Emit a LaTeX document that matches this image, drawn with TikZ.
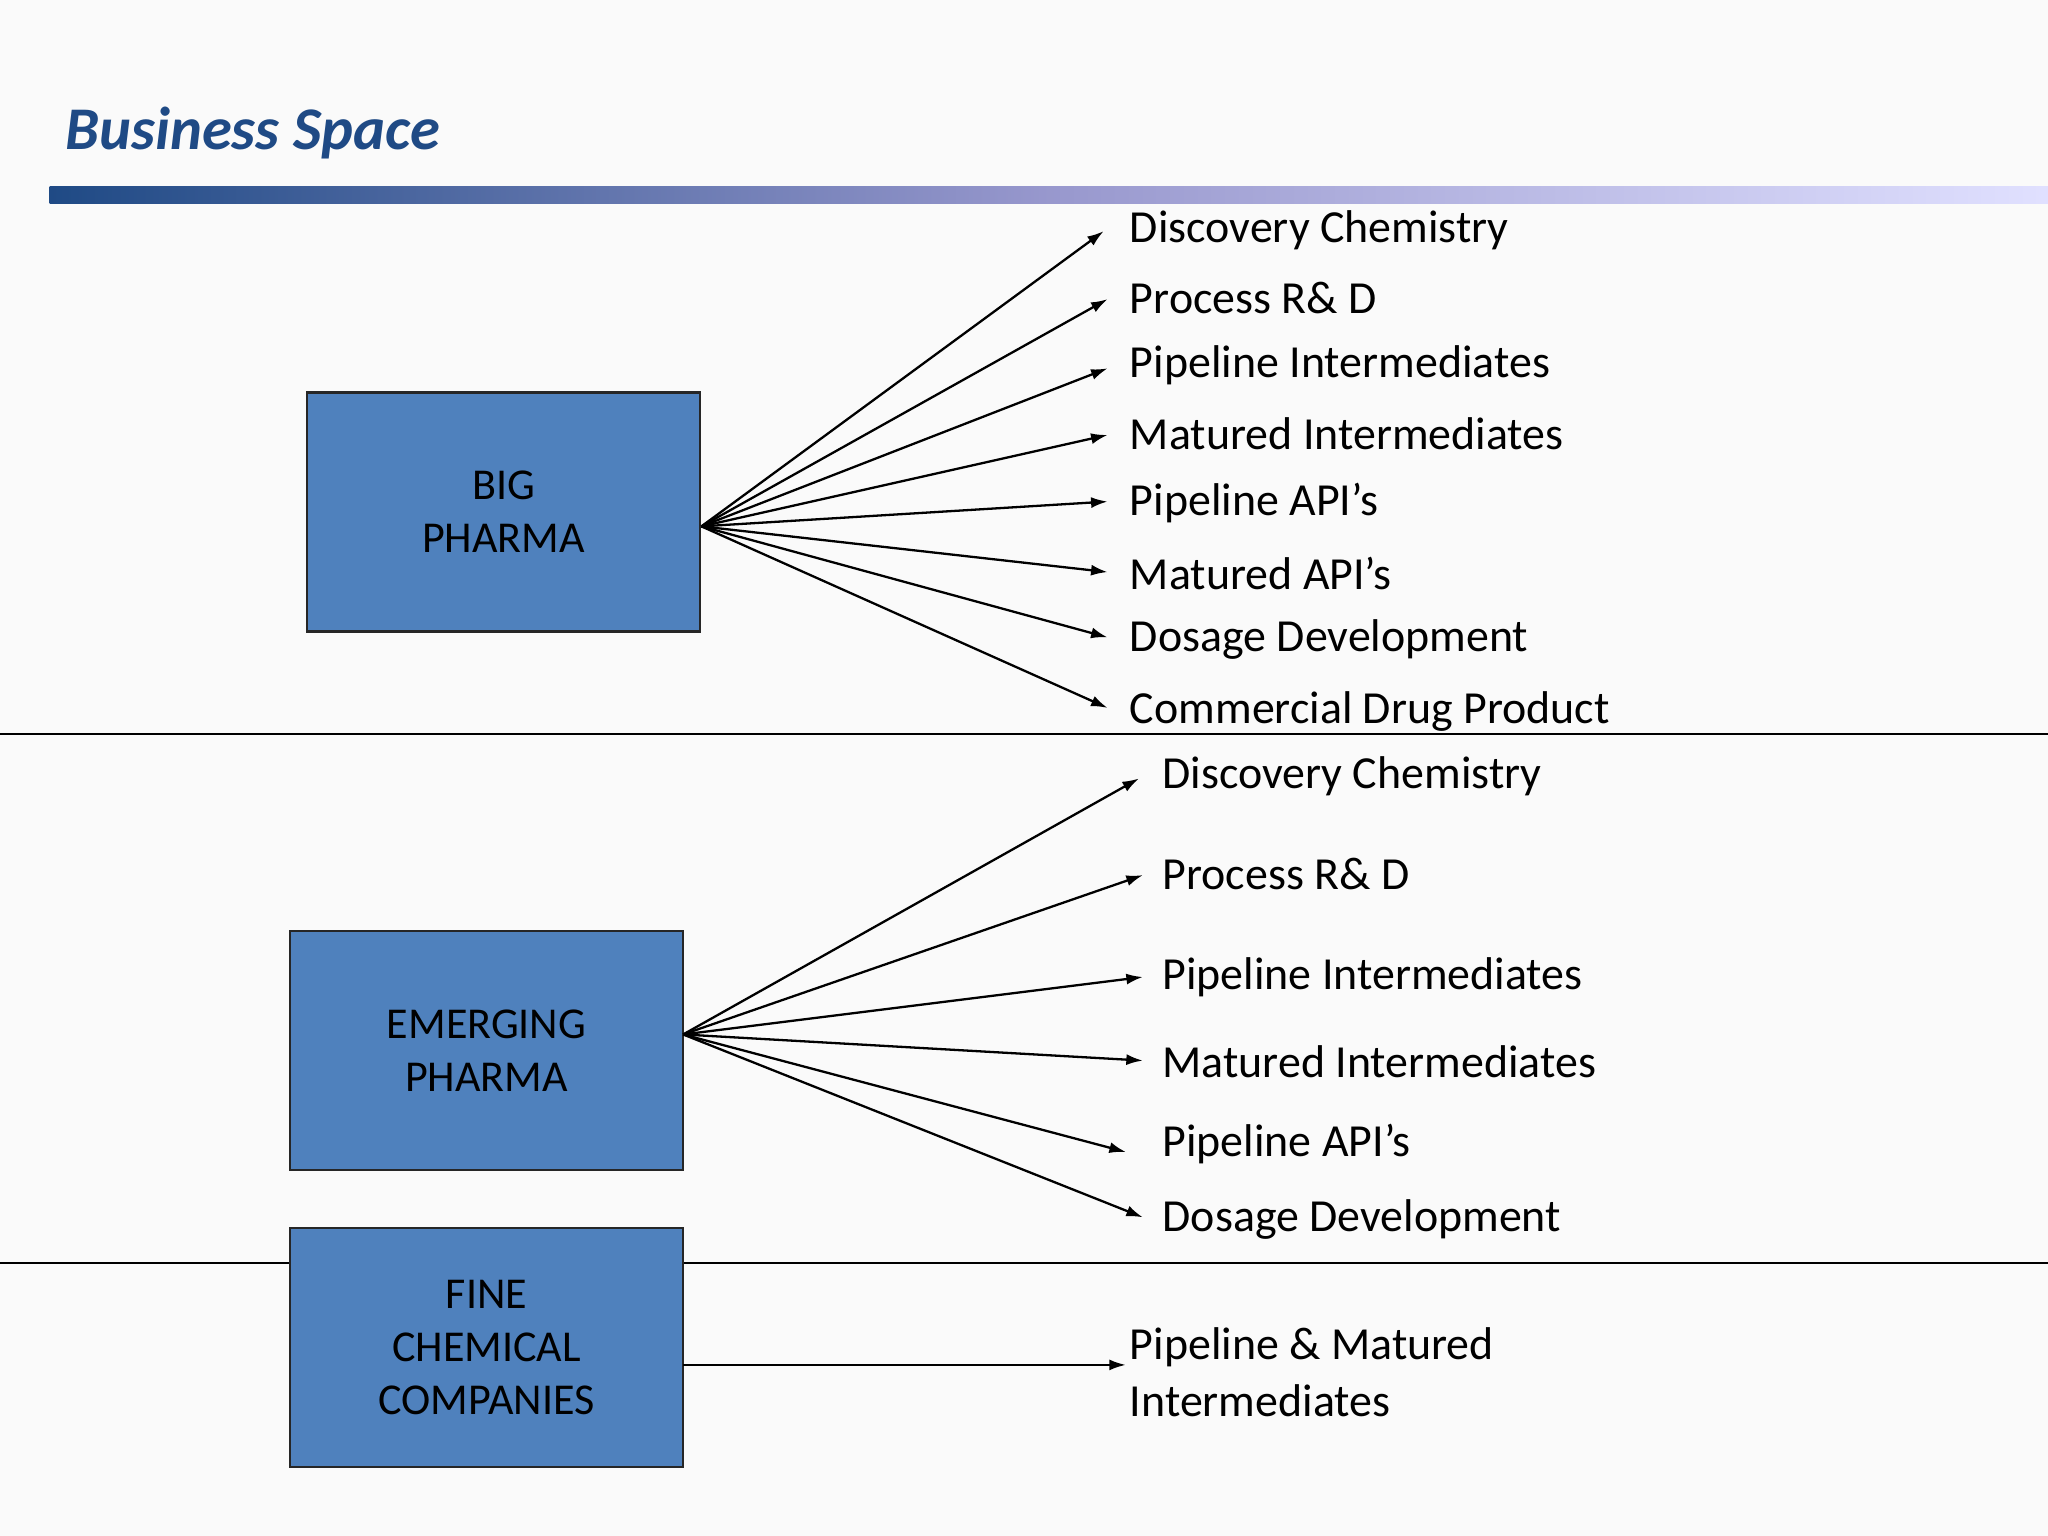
\documentclass[tikz,border=0pt]{standalone}
\usepackage{fontspec}
\setmainfont{Carlito}
\usetikzlibrary{arrows.meta,shadows}
\definecolor{boxblue}{HTML}{4F81BD}
\definecolor{titleblue}{HTML}{1F4A85}
\begin{document}
\begin{tikzpicture}[x=0.05cm,y=-0.05cm,
  box/.style={draw=black!85,line width=2.5pt,fill=boxblue,minimum width=15.05cm,minimum height=9.15cm,align=center,font=\fontsize{48}{58}\selectfont,inner sep=0pt},
  lbl/.style={anchor=west,font=\fontsize{50}{62}\selectfont,inner sep=0pt},
  arr/.style={line width=2.5pt,-{Latex[length=18pt,width=12pt]}}]
\useasboundingbox[fill=white!98!black] (0,0) rectangle (1568,1176);
\node[anchor=west,font=\fontsize{66}{70}\selectfont\bfseries\itshape,text=titleblue,inner sep=0pt] (title) at (50,102) {Business Space};
\shade[left color=titleblue,right color=blue!12!white,middle color=blue!35!gray!60] (38,143) rectangle (1568,156);
\draw[line width=2.5pt] (0,562) -- (1568,562);
\draw[line width=2.5pt] (0,967) -- (1568,967);
\node[box] (bp) at (385.5,392) {BIG\\PHARMA};
\node[box] (ep) at (372.5,804.5) {EMERGING\\PHARMA};
\node[box] (fc) at (372.5,1031.5) {FINE\\CHEMICAL\\COMPANIES};
\coordinate (o1) at (537,403);
\coordinate (o2) at (523,792);
\coordinate (o3) at (523,1045);
\foreach \n/\y/\t [count=\i] in {a/176/Discovery Chemistry,b/228/Process R\& D,c/280/Pipeline Intermediates,d/332/Matured Intermediates,e/385/Pipeline API’s,f/439/Matured API’s,g/490/Dosage Development,h/545/Commercial Drug Product}{
  \node[lbl] (\n) at (865,\y) {\t};
}
\foreach \n/\x/\y in {a/845/177,b/848/229,c/848/282,d/848/333,e/848/384,f/848/438,g/848/488,h/848/542}{
  \coordinate (t\n) at (\x,\y);
  \draw[arr] (o1) -- (t\n);
}
\foreach \n/\y/\t in {p/594/Discovery Chemistry,q/669/Process R\& D,r/748/Pipeline Intermediates,s/813/Matured Intermediates,u/876/Pipeline API’s,v/934/Dosage Development}{
  \node[lbl] (\n) at (890,\y) {\t};
}
\foreach \n/\x/\y in {p/872/596,q/875/670,r/875/748,s/875/812,u/862/882,v/875/932}{
  \coordinate (t\n) at (\x,\y);
  \draw[arr] (o2) -- (t\n);
}
\node[lbl,align=left,anchor=north west,font=\fontsize{50}{62}\selectfont] (w) at (865,1016) {Pipeline \& Matured\\Intermediates};
\coordinate (tw) at (862,1045);
\draw[arr] (o3) -- (tw);
\end{tikzpicture}
\end{document}
